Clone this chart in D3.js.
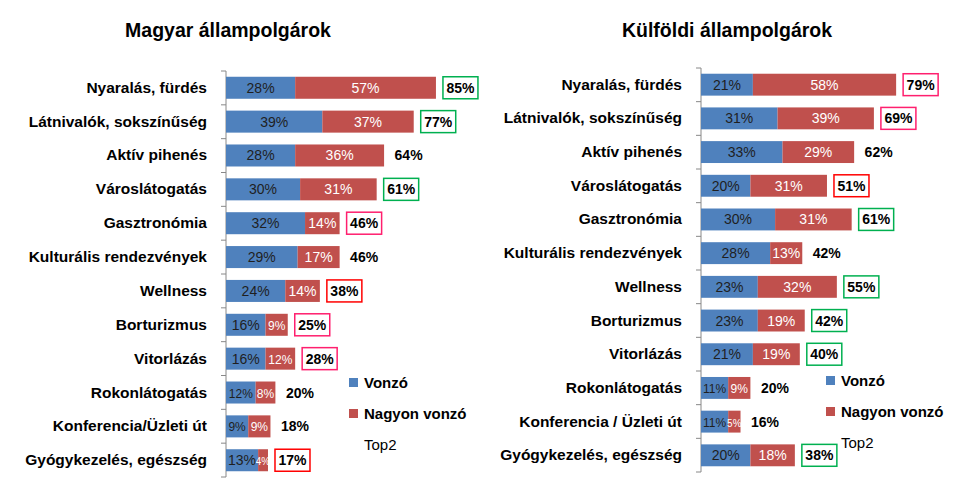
<!DOCTYPE html>
<html><head><meta charset="utf-8">
<script src="https://cdn.jsdelivr.net/npm/d3@7"></script>
<style>body{margin:0;background:#fff;font-family:"Liberation Sans",Arial,sans-serif;}</style>
</head><body><svg width="960" height="486"></svg>
<script>
let categoriesHu = ["Nyaralás, fürdés","Látnivalók, sokszínűség","Aktív pihenés","Városlátogatás","Gasztronómia","Kulturális rendezvények","Wellness","Borturizmus","Vitorlázás","Rokonlátogatás","Konferencia/Üzleti út","Gyógykezelés, egészség"];
let vonzoHu = [28,39,28,30,32,29,24,16,16,12,9,13];
let nagyonHu = [57,37,36,31,14,17,14,9,12,8,9,4];
let top2Hu = [85,77,64,61,46,46,38,25,28,20,18,17];
let boxHu = ["g","g","","g","p","","r","p","p","","","r"];

let categoriesFo = ["Nyaralás, fürdés","Látnivalók, sokszínűség","Aktív pihenés","Városlátogatás","Gasztronómia","Kulturális rendezvények","Wellness","Borturizmus","Vitorlázás","Rokonlátogatás","Konferencia / Üzleti út","Gyógykezelés, egészség"];
let vonzoFo = [21,31,33,20,30,28,23,23,21,11,11,20];
let nagyonFo = [58,39,29,31,31,13,32,19,19,9,5,18];
let top2Fo = [79,69,62,51,61,42,55,42,40,20,16,38];
let boxFo = ["p","p","","r","g","","g","g","g","","","g"];

let boxColors = {g:"#00b050", p:"#ff1f6e", r:"#ff0000"};
let svg = d3.select("svg");

function panel(title, cats, v, n, t, box, o){
  let g = svg.append("g");
  let x = d3.scaleLinear().domain([0,100]).range([o.x0, o.x0 + 247]);
  let y = d3.scaleBand().domain(cats).range([o.y0, o.y1]).paddingInner(0.35).paddingOuter(0.17);
  let bh = y.bandwidth();

  g.append("text").attr("x", o.tx).attr("y", 37).attr("text-anchor","middle")
    .style("font-size","19.5px").style("font-weight","bold").text(title);

  g.append("line").attr("x1", o.x0).attr("x2", o.x0).attr("y1", o.y0).attr("y2", o.y1).attr("stroke","#888");
  d3.range(cats.length + 1).forEach(i => {
    let ty = o.y0 + i * (o.y1 - o.y0) / cats.length;
    g.append("line").attr("x1", o.x0 - 5).attr("x2", o.x0).attr("y1", ty).attr("y2", ty).attr("stroke","#888");
  });

  cats.forEach((c, i) => {
    let yy = y(c), cy = yy + bh / 2;
    g.append("text").attr("x", o.x0 - 19).attr("y", cy + 5).attr("text-anchor","end")
      .style("font-size","15.5px").style("font-weight","bold").text(c);
    let w1 = x(v[i]) - x(0), w2 = x(v[i] + n[i]) - x(v[i]);
    g.append("rect").attr("x", x(0)).attr("y", yy).attr("width", w1).attr("height", bh).attr("fill","#4f81bd");
    g.append("rect").attr("x", x(v[i])).attr("y", yy).attr("width", w2).attr("height", bh).attr("fill","#c0504d");
    g.append("text").attr("x", x(0) + w1 / 2).attr("y", cy + 5).attr("text-anchor","middle")
      .style("font-size", w1 < 30 ? "12px" : "14px").attr("fill","#1f1f1f").text(v[i] + "%");
    g.append("text").attr("x", x(v[i]) + w2 / 2).attr("y", cy + 5).attr("text-anchor","middle")
      .style("font-size", w2 < 16 ? "10px" : (w2 < 30 ? "12px" : "14px")).attr("fill","#fff").text(n[i] + "%");
    let bx = x(v[i] + n[i]) + 7;
    if (box[i]) {
      g.append("rect").attr("x", bx).attr("y", yy).attr("width", 35).attr("height", bh)
        .attr("fill","#fff").attr("stroke", boxColors[box[i]]).attr("stroke-width", 1.5);
    }
    g.append("text").attr("x", bx + 17.5).attr("y", cy + 5).attr("text-anchor","middle")
      .style("font-size","14px").style("font-weight","bold").text(t[i] + "%");
  });

  let leg = [["Vonzó","#4f81bd"],["Nagyon vonzó","#c0504d"],["Top2",null]];
  leg.forEach((l, i) => {
    let ly = o.ly + i * 31;
    if (l[1]) g.append("rect").attr("x", o.lx).attr("y", ly - 5).attr("width", 9).attr("height", 9).attr("fill", l[1]);
    g.append("text").attr("x", o.lx + 15).attr("y", ly + 5).style("font-size","15px").style("font-weight", i < 2 ? "bold" : "normal").text(l[0]);
  });
}

panel("Magyar állampolgárok", categoriesHu, vonzoHu, nagyonHu, top2Hu, boxHu,
  {x0: 226, y0: 71, y1: 477, tx: 228, lx: 349, ly: 383});
panel("Külföldi állampolgárok", categoriesFo, vonzoFo, nagyonFo, top2Fo, boxFo,
  {x0: 701, y0: 68, y1: 472, tx: 727, lx: 826, ly: 381});
</script></body></html>
